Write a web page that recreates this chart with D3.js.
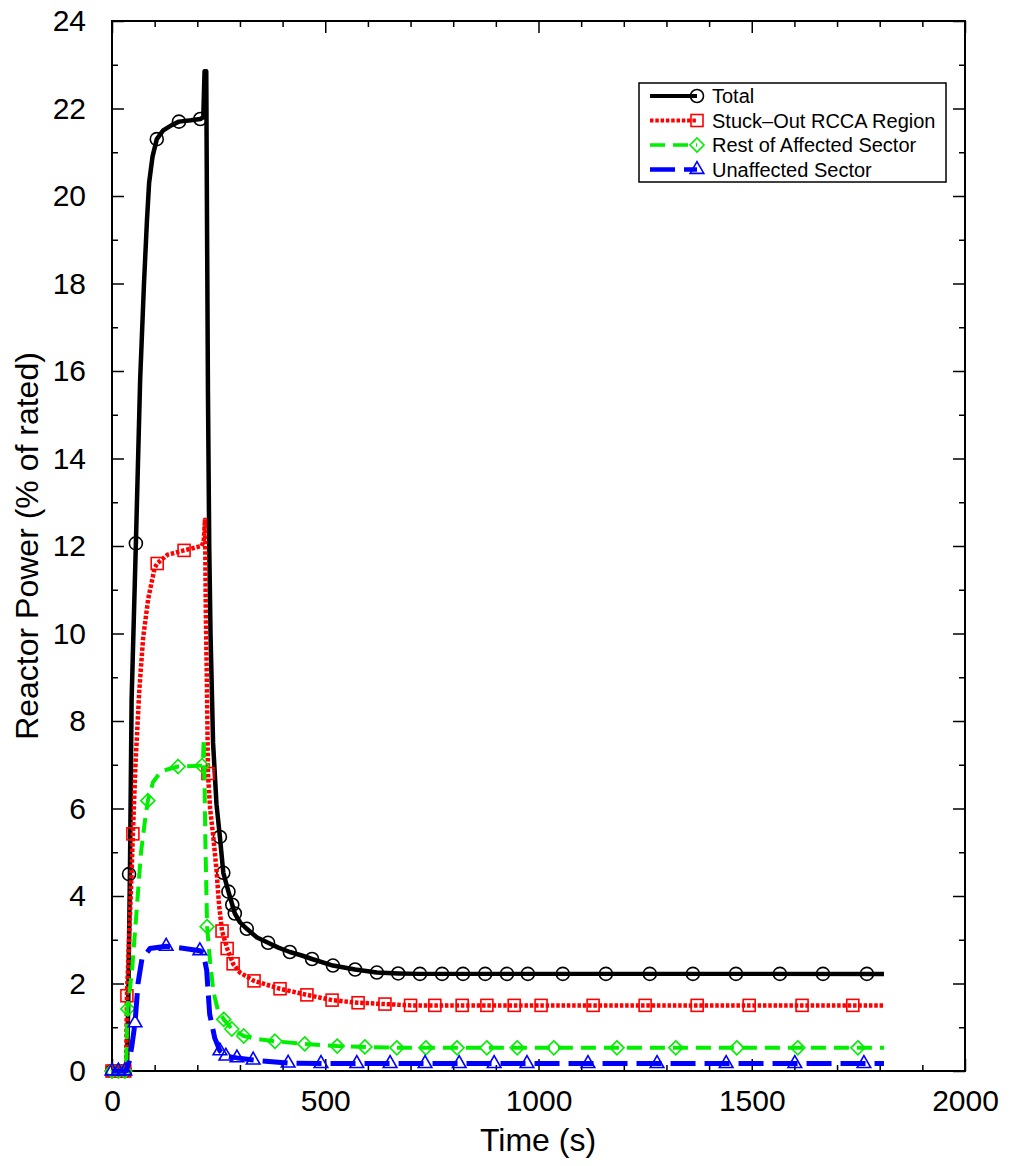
<!DOCTYPE html>
<html>
<head>
<meta charset="utf-8">
<script src="https://cdn.jsdelivr.net/npm/d3@7"></script>
<style>
  body { margin: 0; background: #fff; }
  text { font-family: "Liberation Sans", Arial, Helvetica, sans-serif; }
</style>
</head>
<body>
<svg id="chart" width="1010" height="1166"></svg>
<script>
// Valores (tiempo en s, potencia en % nominal)
const totalTime  = [0, 35, 38, 42, 46, 56, 66, 75, 82, 87, 95, 105, 120, 140, 157, 185, 207, 214, 217, 221, 223, 225, 228, 231, 237, 245, 253, 261, 273, 282, 288, 300, 316, 340, 366, 390, 417, 445, 469, 518, 570, 621, 671, 722, 1810]
const totalPower = [0, 0, 1.5, 4.5, 8.5, 12.06, 15.8, 18.0, 19.45, 20.3, 20.9, 21.3, 21.5, 21.62, 21.7, 21.73, 21.76, 21.8, 22.85, 22.85, 19, 15.5, 12, 10, 7.5, 6.1, 5.35, 4.53, 4.1, 3.8, 3.6, 3.4, 3.25, 3.05, 2.93, 2.82, 2.72, 2.64, 2.56, 2.41, 2.32, 2.25, 2.23, 2.22, 2.22]
const totalMarkT = [0, 15, 30, 40, 56, 105, 157, 207, 253, 261, 273, 282, 288, 316, 366, 417, 469, 518, 570, 621, 671, 722, 774, 823, 875, 926, 975, 1057, 1158, 1261, 1362, 1463, 1566, 1667, 1770]
const totalMarkP = [0, 0, 0, 4.5, 12.06, 21.3, 21.7, 21.76, 5.35, 4.53, 4.1, 3.8, 3.6, 3.25, 2.93, 2.72, 2.56, 2.41, 2.32, 2.25, 2.23, 2.22, 2.22, 2.22, 2.22, 2.22, 2.22, 2.22, 2.22, 2.22, 2.22, 2.22, 2.22, 2.22, 2.22]

const stuckTime  = [0, 33, 35, 40, 45, 49, 55, 64, 73, 85, 100, 106, 130, 169, 210, 215, 218, 220, 223, 225, 230, 237, 245, 251, 258, 270, 284, 300, 333, 394, 457, 516, 577, 640, 700, 1810]
const stuckPower = [0, 0, 1.72, 3.0, 4.3, 5.42, 7.0, 8.7, 9.9, 10.8, 11.5, 11.6, 11.8, 11.9, 12.0, 12.1, 12.6, 10.5, 8.5, 6.8, 6.0, 5.4, 4.6, 3.8, 3.2, 2.8, 2.45, 2.25, 2.06, 1.88, 1.74, 1.62, 1.56, 1.53, 1.5, 1.5]
const stuckMarkT = [0, 15, 30, 35, 49, 106, 169, 225, 258, 270, 284, 333, 394, 457, 516, 577, 640, 700, 757, 821, 879, 943, 1006, 1128, 1250, 1372, 1494, 1618, 1737]
const stuckMarkP = [0, 0, 0, 1.72, 5.42, 11.6, 11.9, 6.8, 3.2, 2.8, 2.45, 2.06, 1.88, 1.74, 1.62, 1.56, 1.53, 1.5, 1.5, 1.5, 1.5, 1.5, 1.5, 1.5, 1.5, 1.5, 1.5, 1.5, 1.5]

const restTime  = [0, 33, 36, 47, 58, 68, 77, 84, 96, 115, 155, 211, 213, 215, 217, 219, 223, 230, 238, 248, 262, 281, 309, 340, 382, 452, 528, 593, 668, 1810]
const restPower = [0, 0, 1.4, 2.3, 3.7, 5.0, 5.7, 6.18, 6.6, 6.85, 6.96, 6.98, 7.0, 7.6, 6.6, 5.2, 3.3, 2.5, 1.8, 1.4, 1.18, 0.96, 0.8, 0.73, 0.68, 0.62, 0.57, 0.55, 0.53, 0.53]
const restMarkT = [0, 15, 30, 37, 84, 155, 211, 223, 262, 281, 309, 382, 452, 528, 593, 668, 736, 809, 879, 950, 1036, 1184, 1322, 1465, 1608, 1749]
const restMarkP = [0, 0, 0, 1.42, 6.18, 6.96, 6.98, 3.3, 1.18, 0.96, 0.8, 0.68, 0.62, 0.57, 0.55, 0.53, 0.53, 0.53, 0.53, 0.53, 0.53, 0.53, 0.53, 0.53, 0.53, 0.53]

const unaffTime  = [0, 33, 40, 47, 54, 61, 70, 89, 110, 127, 170, 206, 214, 222, 229, 241, 253, 267, 293, 331, 413, 490, 1810]
const unaffPower = [0, 0, 0.2, 0.6, 1.1, 2.0, 2.55, 2.8, 2.83, 2.85, 2.8, 2.75, 2.7, 2.3, 1.3, 0.75, 0.46, 0.34, 0.3, 0.25, 0.18, 0.17, 0.17]
const unaffMarkT = [0, 15, 30, 54, 127, 206, 253, 267, 293, 331, 413, 490, 574, 652, 734, 814, 896, 973, 1116, 1278, 1440, 1601, 1763]
const unaffMarkP = [0, 0, 0, 1.1, 2.85, 2.75, 0.46, 0.34, 0.3, 0.25, 0.18, 0.17, 0.17, 0.17, 0.17, 0.17, 0.17, 0.17, 0.17, 0.17, 0.17, 0.17, 0.17]

const seriesNames = ["Total", "Stuck\u2013Out RCCA Region", "Rest of Affected Sector", "Unaffected Sector"]
const xMajorTicks = [0, 500, 1000, 1500, 2000]
const yMajorTicks = [0, 2, 4, 6, 8, 10, 12, 14, 16, 18, 20, 22, 24]

const svg = d3.select("#chart")

// escalas
const x = d3.scaleLinear().domain([0, 2000]).range([112, 965])
const y = d3.scaleLinear().domain([0, 24]).range([1071, 21])

const xMinor = d3.range(0, 2001, 100).filter(d => d % 500 !== 0)
const yMinor = d3.range(1, 24, 2)

// ejes con marcas hacia adentro
function ejes(g) {
  g.selectAll(".domain").remove()
  g.selectAll("line").attr("stroke", "#000").attr("stroke-width", 1.5)
  g.selectAll("text").attr("font-size", 30).attr("fill", "#000")
}

svg.append("g").attr("transform", "translate(0,1071)")
  .call(d3.axisBottom(x).tickValues(xMajorTicks).tickSize(-12).tickPadding(19).tickFormat(d3.format("d")))
  .call(ejes)
svg.append("g").attr("transform", "translate(0,1071)")
  .call(d3.axisBottom(x).tickValues(xMinor).tickSize(-6).tickFormat(""))
  .call(ejes)
svg.append("g").attr("transform", "translate(0,21)")
  .call(d3.axisTop(x).tickValues(xMajorTicks).tickSize(-12).tickFormat(""))
  .call(ejes)
svg.append("g").attr("transform", "translate(0,21)")
  .call(d3.axisTop(x).tickValues(xMinor).tickSize(-6).tickFormat(""))
  .call(ejes)

svg.append("g").attr("transform", "translate(112,0)")
  .call(d3.axisLeft(y).tickValues(yMajorTicks).tickSize(-12).tickPadding(26).tickFormat(d3.format("d")))
  .call(ejes)
svg.append("g").attr("transform", "translate(112,0)")
  .call(d3.axisLeft(y).tickValues(yMinor).tickSize(-6).tickFormat(""))
  .call(ejes)
svg.append("g").attr("transform", "translate(965,0)")
  .call(d3.axisRight(y).tickValues(yMajorTicks).tickSize(-12).tickFormat(""))
  .call(ejes)
svg.append("g").attr("transform", "translate(965,0)")
  .call(d3.axisRight(y).tickValues(yMinor).tickSize(-6).tickFormat(""))
  .call(ejes)

// marco
svg.append("rect")
  .attr("x", 112).attr("y", 21)
  .attr("width", 965 - 112).attr("height", 1071 - 21)
  .attr("fill", "none").attr("stroke", "#000").attr("stroke-width", 2)

// titulos
svg.append("text")
  .attr("x", 538).attr("y", 1151)
  .attr("text-anchor", "middle").attr("font-size", 32)
  .text("Time (s)")
svg.append("text")
  .attr("transform", "translate(38,546) rotate(-90)")
  .attr("text-anchor", "middle").attr("font-size", 32)
  .text("Reactor Power (% of rated)")

// simbolos
function marcador(g, tipo, color) {
  if (tipo === "circle") {
    g.append("circle").attr("r", 6.5)
  } else if (tipo === "square") {
    g.append("rect").attr("x", -6).attr("y", -6).attr("width", 12).attr("height", 12)
  } else if (tipo === "diamond") {
    g.append("path").attr("d", "M0,-7L7,0L0,7L-7,0Z")
  } else {
    g.append("path").attr("d", d3.symbol(d3.symbolTriangle, 80)())
  }
  g.selectAll("*").attr("fill", "none").attr("stroke", color).attr("stroke-width", 1.6)
}

const series = [
  { name: seriesNames[0], t: totalTime, p: totalPower, mt: totalMarkT, mp: totalMarkP, color: "#000000", dash: null, width: 4.5, sym: "circle" },
  { name: seriesNames[1], t: stuckTime, p: stuckPower, mt: stuckMarkT, mp: stuckMarkP, color: "#ff0000", dash: "3.5,1.8", width: 4.5, sym: "square" },
  { name: seriesNames[2], t: restTime, p: restPower, mt: restMarkT, mp: restMarkP, color: "#00ee00", dash: "15,8", width: 4, sym: "diamond" },
  { name: seriesNames[3], t: unaffTime, p: unaffPower, mt: unaffMarkT, mp: unaffMarkP, color: "#0000ff", dash: "25,9", width: 5, sym: "triangle" }
]

const linea = d3.line().x(d => x(d[0])).y(d => y(d[1]))

series.forEach(s => {
  const pts = s.t.map((t, i) => [t, s.p[i]])
  svg.append("path")
    .datum(pts)
    .attr("d", linea)
    .attr("fill", "none")
    .attr("stroke", s.color)
    .attr("stroke-width", s.width)
    .attr("stroke-dasharray", s.dash)
    .attr("stroke-linejoin", "round")

  const marks = s.mt.map((t, i) => [t, s.mp[i]])
  svg.append("g").selectAll("g")
    .data(marks)
    .enter().append("g")
    .attr("transform", d => "translate(" + x(d[0]) + "," + y(d[1]) + ")")
    .each(function() { marcador(d3.select(this), s.sym, s.color) })
})

// leyenda
const ley = svg.append("g")
ley.append("rect")
  .attr("x", 639).attr("y", 83).attr("width", 307).attr("height", 99)
  .attr("fill", "#fff").attr("stroke", "#000").attr("stroke-width", 1.5)

series.forEach((s, i) => {
  const yy = 96 + i * 24.5
  ley.append("line")
    .attr("x1", 650).attr("x2", 697).attr("y1", yy).attr("y2", yy)
    .attr("stroke", s.color).attr("stroke-width", s.width - 0.5)
    .attr("stroke-dasharray", s.dash)
  const m = ley.append("g").attr("transform", "translate(697," + yy + ")")
  marcador(m, s.sym, s.color)
  ley.append("text")
    .attr("x", 712).attr("y", yy).attr("dy", "0.35em")
    .attr("font-size", 20)
    .text(s.name)
})
</script>
</body>
</html>
